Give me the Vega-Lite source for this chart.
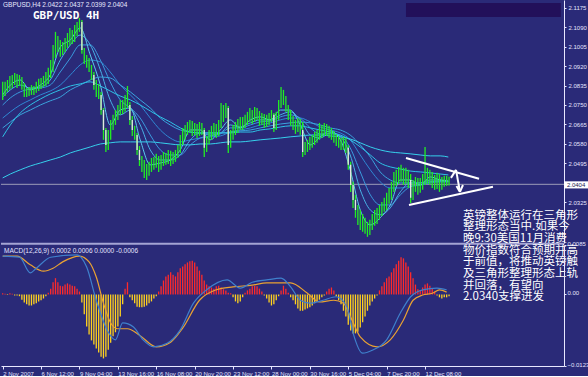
{
"$schema":"https://vega.github.io/schema/vega-lite/v6.json",
"background":"#2a2a78",
"padding":0,
"bounds":"flush",
"spacing":2,
"config":{"view":{"stroke":null},"axis":{"labelFont":"Liberation Sans","labelFontSize":6,"labelColor":"#e4e4ff","domainColor":"#e8e8ff","tickColor":"#e8e8ff","grid":false,"title":null,"labelOverlap":false,"labelFlush":false,"labelBound":false,"labelSeparation":0}},
"datasets":{
"bars":[
{"i":0,"o":2.0794,"h":2.0851,"l":2.0772,"c":2.0807,"m":0.0002},
{"i":1,"o":2.0807,"h":2.0851,"l":2.0789,"c":2.0824,"m":0.0001},
{"i":2,"o":2.0824,"h":2.0859,"l":2.0807,"c":2.0837,"m":-0.0001},
{"i":3,"o":2.0837,"h":2.0877,"l":2.0816,"c":2.0846,"m":0.0002},
{"i":4,"o":2.0846,"h":2.0881,"l":2.0824,"c":2.0859,"m":0.0001},
{"i":5,"o":2.0859,"h":2.0890,"l":2.0837,"c":2.0868,"m":-0.0002},
{"i":6,"o":2.0868,"h":2.0885,"l":2.0824,"c":2.0851,"m":-0.0002},
{"i":7,"o":2.0851,"h":2.0881,"l":2.0833,"c":2.0864,"m":-0.0003},
{"i":8,"o":2.0864,"h":2.0872,"l":2.0816,"c":2.0837,"m":-0.0009},
{"i":9,"o":2.0837,"h":2.0846,"l":2.0785,"c":2.0807,"m":-0.0014},
{"i":10,"o":2.0807,"h":2.0824,"l":2.0785,"c":2.0803,"m":-0.0017},
{"i":11,"o":2.0803,"h":2.0829,"l":2.0789,"c":2.0807,"m":-0.0019},
{"i":12,"o":2.0807,"h":2.0837,"l":2.0794,"c":2.0816,"m":-0.0019},
{"i":13,"o":2.0816,"h":2.0833,"l":2.0794,"c":2.0811,"m":-0.0017},
{"i":14,"o":2.0811,"h":2.0851,"l":2.0803,"c":2.0824,"m":-0.0015},
{"i":15,"o":2.0824,"h":2.0864,"l":2.0811,"c":2.0837,"m":-0.0012},
{"i":16,"o":2.0837,"h":2.0868,"l":2.0820,"c":2.0846,"m":-0.0010},
{"i":17,"o":2.0846,"h":2.0877,"l":2.0829,"c":2.0851,"m":-0.0007},
{"i":18,"o":2.0851,"h":2.0894,"l":2.0833,"c":2.0859,"m":-0.0003},
{"i":19,"o":2.0859,"h":2.0912,"l":2.0842,"c":2.0881,"m":0.0003},
{"i":20,"o":2.0881,"h":2.0946,"l":2.0868,"c":2.0903,"m":0.0010},
{"i":21,"o":2.0903,"h":2.1012,"l":2.0894,"c":2.0968,"m":0.0021},
{"i":22,"o":2.0968,"h":2.1069,"l":2.0955,"c":2.1034,"m":0.0028},
{"i":23,"o":2.1034,"h":2.1051,"l":2.0981,"c":2.1012,"m":0.0021},
{"i":24,"o":2.1012,"h":2.1034,"l":2.0960,"c":2.0990,"m":0.0015},
{"i":25,"o":2.0990,"h":2.1025,"l":2.0968,"c":2.0999,"m":0.0014},
{"i":26,"o":2.0999,"h":2.1042,"l":2.0981,"c":2.1012,"m":0.0017},
{"i":27,"o":2.1012,"h":2.1064,"l":2.0999,"c":2.1034,"m":0.0019},
{"i":28,"o":2.1034,"h":2.1086,"l":2.1012,"c":2.1055,"m":0.0017},
{"i":29,"o":2.1055,"h":2.1077,"l":2.1016,"c":2.1042,"m":0.0015},
{"i":30,"o":2.1042,"h":2.1099,"l":2.1025,"c":2.1069,"m":0.0014},
{"i":31,"o":2.1069,"h":2.1112,"l":2.1051,"c":2.1086,"m":0.0010},
{"i":32,"o":2.1086,"h":2.1130,"l":2.1069,"c":2.1112,"m":0.0005},
{"i":33,"o":2.1112,"h":2.1121,"l":2.0973,"c":2.0990,"m":-0.0014},
{"i":34,"o":2.0990,"h":2.0999,"l":2.0929,"c":2.0955,"m":-0.0034},
{"i":35,"o":2.0955,"h":2.0968,"l":2.0912,"c":2.0938,"m":-0.0055},
{"i":36,"o":2.0938,"h":2.0955,"l":2.0894,"c":2.0912,"m":-0.0069},
{"i":37,"o":2.0912,"h":2.0925,"l":2.0859,"c":2.0881,"m":-0.0079},
{"i":38,"o":2.0881,"h":2.0894,"l":2.0816,"c":2.0837,"m":-0.0086},
{"i":39,"o":2.0837,"h":2.0859,"l":2.0785,"c":2.0824,"m":-0.0093},
{"i":40,"o":2.0824,"h":2.0842,"l":2.0776,"c":2.0794,"m":-0.0100},
{"i":41,"o":2.0794,"h":2.0807,"l":2.0707,"c":2.0728,"m":-0.0107},
{"i":42,"o":2.0728,"h":2.0737,"l":2.0598,"c":2.0641,"m":-0.0110},
{"i":43,"o":2.0641,"h":2.0650,"l":2.0545,"c":2.0576,"m":-0.0107},
{"i":44,"o":2.0576,"h":2.0641,"l":2.0554,"c":2.0619,"m":-0.0095},
{"i":45,"o":2.0619,"h":2.0685,"l":2.0598,"c":2.0663,"m":-0.0083},
{"i":46,"o":2.0663,"h":2.0707,"l":2.0641,"c":2.0685,"m":-0.0072},
{"i":47,"o":2.0685,"h":2.0728,"l":2.0663,"c":2.0707,"m":-0.0065},
{"i":48,"o":2.0707,"h":2.0750,"l":2.0685,"c":2.0728,"m":-0.0055},
{"i":49,"o":2.0728,"h":2.0772,"l":2.0707,"c":2.0750,"m":-0.0038},
{"i":50,"o":2.0750,"h":2.0772,"l":2.0711,"c":2.0737,"m":-0.0017},
{"i":51,"o":2.0737,"h":2.0794,"l":2.0720,"c":2.0772,"m":0.0010},
{"i":52,"o":2.0772,"h":2.0833,"l":2.0737,"c":2.0750,"m":0.0021},
{"i":53,"o":2.0750,"h":2.0763,"l":2.0663,"c":2.0685,"m":-0.0005},
{"i":54,"o":2.0685,"h":2.0702,"l":2.0615,"c":2.0641,"m":-0.0010},
{"i":55,"o":2.0641,"h":2.0659,"l":2.0598,"c":2.0619,"m":-0.0015},
{"i":56,"o":2.0619,"h":2.0628,"l":2.0532,"c":2.0554,"m":-0.0021},
{"i":57,"o":2.0554,"h":2.0571,"l":2.0484,"c":2.0510,"m":-0.0022},
{"i":58,"o":2.0510,"h":2.0528,"l":2.0458,"c":2.0489,"m":-0.0022},
{"i":59,"o":2.0489,"h":2.0510,"l":2.0432,"c":2.0467,"m":-0.0021},
{"i":60,"o":2.0467,"h":2.0493,"l":2.0423,"c":2.0458,"m":-0.0019},
{"i":61,"o":2.0458,"h":2.0502,"l":2.0441,"c":2.0476,"m":-0.0015},
{"i":62,"o":2.0476,"h":2.0519,"l":2.0458,"c":2.0489,"m":-0.0012},
{"i":63,"o":2.0489,"h":2.0523,"l":2.0467,"c":2.0497,"m":-0.0007},
{"i":64,"o":2.0497,"h":2.0537,"l":2.0476,"c":2.0510,"m":-0.0003},
{"i":65,"o":2.0510,"h":2.0528,"l":2.0458,"c":2.0489,"m":0.0005},
{"i":66,"o":2.0489,"h":2.0532,"l":2.0467,"c":2.0502,"m":0.0014},
{"i":67,"o":2.0502,"h":2.0545,"l":2.0484,"c":2.0519,"m":0.0024},
{"i":68,"o":2.0519,"h":2.0541,"l":2.0489,"c":2.0510,"m":0.0031},
{"i":69,"o":2.0510,"h":2.0554,"l":2.0493,"c":2.0532,"m":0.0034},
{"i":70,"o":2.0532,"h":2.0550,"l":2.0484,"c":2.0510,"m":0.0038},
{"i":71,"o":2.0510,"h":2.0545,"l":2.0493,"c":2.0519,"m":0.0034},
{"i":72,"o":2.0519,"h":2.0554,"l":2.0502,"c":2.0532,"m":0.0031},
{"i":73,"o":2.0532,"h":2.0576,"l":2.0519,"c":2.0554,"m":0.0038},
{"i":74,"o":2.0554,"h":2.0619,"l":2.0541,"c":2.0598,"m":0.0045},
{"i":75,"o":2.0598,"h":2.0650,"l":2.0576,"c":2.0619,"m":0.0048},
{"i":76,"o":2.0619,"h":2.0663,"l":2.0598,"c":2.0641,"m":0.0052},
{"i":77,"o":2.0641,"h":2.0676,"l":2.0619,"c":2.0650,"m":0.0055},
{"i":78,"o":2.0650,"h":2.0685,"l":2.0628,"c":2.0663,"m":0.0057},
{"i":79,"o":2.0663,"h":2.0680,"l":2.0615,"c":2.0641,"m":0.0058},
{"i":80,"o":2.0641,"h":2.0672,"l":2.0619,"c":2.0650,"m":0.0055},
{"i":81,"o":2.0650,"h":2.0667,"l":2.0606,"c":2.0632,"m":0.0048},
{"i":82,"o":2.0632,"h":2.0676,"l":2.0615,"c":2.0654,"m":0.0041},
{"i":83,"o":2.0654,"h":2.0672,"l":2.0619,"c":2.0641,"m":0.0034},
{"i":84,"o":2.0641,"h":2.0650,"l":2.0523,"c":2.0563,"m":0.0024},
{"i":85,"o":2.0563,"h":2.0615,"l":2.0545,"c":2.0598,"m":0.0017},
{"i":86,"o":2.0598,"h":2.0641,"l":2.0580,"c":2.0619,"m":0.0014},
{"i":87,"o":2.0619,"h":2.0659,"l":2.0598,"c":2.0641,"m":0.0012},
{"i":88,"o":2.0641,"h":2.0672,"l":2.0615,"c":2.0650,"m":0.0010},
{"i":89,"o":2.0650,"h":2.0667,"l":2.0606,"c":2.0632,"m":0.0014},
{"i":90,"o":2.0632,"h":2.0685,"l":2.0615,"c":2.0663,"m":0.0015},
{"i":91,"o":2.0663,"h":2.0759,"l":2.0650,"c":2.0707,"m":0.0012},
{"i":92,"o":2.0707,"h":2.0750,"l":2.0676,"c":2.0728,"m":0.0009},
{"i":93,"o":2.0728,"h":2.0759,"l":2.0693,"c":2.0737,"m":0.0007},
{"i":94,"o":2.0737,"h":2.0746,"l":2.0541,"c":2.0576,"m":0.0003},
{"i":95,"o":2.0576,"h":2.0641,"l":2.0563,"c":2.0619,"m":0.0002},
{"i":96,"o":2.0619,"h":2.0663,"l":2.0598,"c":2.0641,"m":-0.0005},
{"i":97,"o":2.0641,"h":2.0676,"l":2.0619,"c":2.0650,"m":-0.0012},
{"i":98,"o":2.0650,"h":2.0689,"l":2.0628,"c":2.0663,"m":-0.0015},
{"i":99,"o":2.0663,"h":2.0698,"l":2.0641,"c":2.0676,"m":-0.0012},
{"i":100,"o":2.0676,"h":2.0698,"l":2.0641,"c":2.0663,"m":-0.0005},
{"i":101,"o":2.0663,"h":2.0707,"l":2.0650,"c":2.0685,"m":0.0003},
{"i":102,"o":2.0685,"h":2.0720,"l":2.0663,"c":2.0693,"m":0.0007},
{"i":103,"o":2.0693,"h":2.0737,"l":2.0676,"c":2.0707,"m":0.0010},
{"i":104,"o":2.0707,"h":2.0728,"l":2.0667,"c":2.0693,"m":0.0014},
{"i":105,"o":2.0693,"h":2.0741,"l":2.0676,"c":2.0720,"m":0.0015},
{"i":106,"o":2.0720,"h":2.0737,"l":2.0685,"c":2.0707,"m":0.0014},
{"i":107,"o":2.0707,"h":2.0724,"l":2.0659,"c":2.0685,"m":0.0010},
{"i":108,"o":2.0685,"h":2.0715,"l":2.0663,"c":2.0693,"m":0.0005},
{"i":109,"o":2.0693,"h":2.0711,"l":2.0650,"c":2.0676,"m":-0.0002},
{"i":110,"o":2.0676,"h":2.0707,"l":2.0654,"c":2.0685,"m":-0.0007},
{"i":111,"o":2.0685,"h":2.0715,"l":2.0663,"c":2.0693,"m":-0.0014},
{"i":112,"o":2.0693,"h":2.0728,"l":2.0676,"c":2.0707,"m":-0.0019},
{"i":113,"o":2.0707,"h":2.0715,"l":2.0632,"c":2.0650,"m":-0.0017},
{"i":114,"o":2.0650,"h":2.0720,"l":2.0641,"c":2.0693,"m":-0.0010},
{"i":115,"o":2.0693,"h":2.0772,"l":2.0685,"c":2.0750,"m":-0.0003},
{"i":116,"o":2.0750,"h":2.0829,"l":2.0737,"c":2.0794,"m":0.0007},
{"i":117,"o":2.0794,"h":2.0816,"l":2.0750,"c":2.0772,"m":0.0015},
{"i":118,"o":2.0772,"h":2.0789,"l":2.0720,"c":2.0737,"m":0.0010},
{"i":119,"o":2.0737,"h":2.0750,"l":2.0685,"c":2.0707,"m":0.0003},
{"i":120,"o":2.0707,"h":2.0728,"l":2.0659,"c":2.0685,"m":-0.0005},
{"i":121,"o":2.0685,"h":2.0702,"l":2.0641,"c":2.0663,"m":-0.0010},
{"i":122,"o":2.0663,"h":2.0685,"l":2.0624,"c":2.0650,"m":-0.0017},
{"i":123,"o":2.0650,"h":2.0693,"l":2.0632,"c":2.0676,"m":-0.0024},
{"i":124,"o":2.0676,"h":2.0689,"l":2.0619,"c":2.0641,"m":-0.0028},
{"i":125,"o":2.0641,"h":2.0676,"l":2.0523,"c":2.0545,"m":-0.0028},
{"i":126,"o":2.0545,"h":2.0589,"l":2.0532,"c":2.0563,"m":-0.0026},
{"i":127,"o":2.0563,"h":2.0598,"l":2.0545,"c":2.0576,"m":-0.0024},
{"i":128,"o":2.0576,"h":2.0611,"l":2.0554,"c":2.0585,"m":-0.0022},
{"i":129,"o":2.0585,"h":2.0619,"l":2.0563,"c":2.0598,"m":-0.0019},
{"i":130,"o":2.0598,"h":2.0632,"l":2.0576,"c":2.0606,"m":-0.0015},
{"i":131,"o":2.0606,"h":2.0641,"l":2.0585,"c":2.0619,"m":-0.0012},
{"i":132,"o":2.0619,"h":2.0672,"l":2.0598,"c":2.0641,"m":-0.0009},
{"i":133,"o":2.0641,"h":2.0663,"l":2.0606,"c":2.0632,"m":-0.0005},
{"i":134,"o":2.0632,"h":2.0672,"l":2.0615,"c":2.0650,"m":-0.0002},
{"i":135,"o":2.0650,"h":2.0667,"l":2.0615,"c":2.0641,"m":0.0005},
{"i":136,"o":2.0641,"h":2.0659,"l":2.0606,"c":2.0628,"m":0.0010},
{"i":137,"o":2.0628,"h":2.0650,"l":2.0598,"c":2.0619,"m":0.0012},
{"i":138,"o":2.0619,"h":2.0637,"l":2.0585,"c":2.0606,"m":0.0007},
{"i":139,"o":2.0606,"h":2.0624,"l":2.0571,"c":2.0598,"m":-0.0003},
{"i":140,"o":2.0598,"h":2.0615,"l":2.0563,"c":2.0589,"m":-0.0010},
{"i":141,"o":2.0589,"h":2.0606,"l":2.0554,"c":2.0576,"m":-0.0017},
{"i":142,"o":2.0576,"h":2.0611,"l":2.0554,"c":2.0589,"m":-0.0028},
{"i":143,"o":2.0589,"h":2.0606,"l":2.0541,"c":2.0563,"m":-0.0038},
{"i":144,"o":2.0563,"h":2.0576,"l":2.0467,"c":2.0489,"m":-0.0052},
{"i":145,"o":2.0489,"h":2.0502,"l":2.0371,"c":2.0401,"m":-0.0062},
{"i":146,"o":2.0401,"h":2.0415,"l":2.0301,"c":2.0336,"m":-0.0067},
{"i":147,"o":2.0336,"h":2.0358,"l":2.0258,"c":2.0292,"m":-0.0067},
{"i":148,"o":2.0292,"h":2.0314,"l":2.0227,"c":2.0258,"m":-0.0064},
{"i":149,"o":2.0258,"h":2.0292,"l":2.0205,"c":2.0240,"m":-0.0057},
{"i":150,"o":2.0240,"h":2.0275,"l":2.0197,"c":2.0227,"m":-0.0048},
{"i":151,"o":2.0227,"h":2.0258,"l":2.0188,"c":2.0214,"m":-0.0038},
{"i":152,"o":2.0214,"h":2.0240,"l":2.0175,"c":2.0197,"m":-0.0028},
{"i":153,"o":2.0197,"h":2.0249,"l":2.0183,"c":2.0227,"m":-0.0019},
{"i":154,"o":2.0227,"h":2.0275,"l":2.0205,"c":2.0249,"m":-0.0012},
{"i":155,"o":2.0249,"h":2.0292,"l":2.0223,"c":2.0258,"m":-0.0007},
{"i":156,"o":2.0258,"h":2.0301,"l":2.0231,"c":2.0271,"m":-0.0002},
{"i":157,"o":2.0271,"h":2.0314,"l":2.0249,"c":2.0284,"m":0.0007},
{"i":158,"o":2.0284,"h":2.0327,"l":2.0266,"c":2.0301,"m":0.0014},
{"i":159,"o":2.0301,"h":2.0345,"l":2.0284,"c":2.0314,"m":0.0021},
{"i":160,"o":2.0314,"h":2.0367,"l":2.0292,"c":2.0336,"m":0.0028},
{"i":161,"o":2.0336,"h":2.0388,"l":2.0319,"c":2.0358,"m":0.0031},
{"i":162,"o":2.0358,"h":2.0415,"l":2.0336,"c":2.0388,"m":0.0038},
{"i":163,"o":2.0388,"h":2.0458,"l":2.0371,"c":2.0423,"m":0.0045},
{"i":164,"o":2.0423,"h":2.0467,"l":2.0397,"c":2.0432,"m":0.0052},
{"i":165,"o":2.0432,"h":2.0480,"l":2.0406,"c":2.0445,"m":0.0058},
{"i":166,"o":2.0445,"h":2.0489,"l":2.0415,"c":2.0458,"m":0.0064},
{"i":167,"o":2.0458,"h":2.0476,"l":2.0401,"c":2.0432,"m":0.0062},
{"i":168,"o":2.0432,"h":2.0476,"l":2.0406,"c":2.0445,"m":0.0055},
{"i":169,"o":2.0445,"h":2.0467,"l":2.0388,"c":2.0423,"m":0.0048},
{"i":170,"o":2.0423,"h":2.0449,"l":2.0323,"c":2.0345,"m":0.0038},
{"i":171,"o":2.0345,"h":2.0423,"l":2.0336,"c":2.0401,"m":0.0028},
{"i":172,"o":2.0401,"h":2.0436,"l":2.0371,"c":2.0410,"m":0.0017},
{"i":173,"o":2.0410,"h":2.0432,"l":2.0358,"c":2.0388,"m":0.0009},
{"i":174,"o":2.0388,"h":2.0432,"l":2.0367,"c":2.0401,"m":0.0007},
{"i":175,"o":2.0401,"h":2.0449,"l":2.0380,"c":2.0423,"m":0.0012},
{"i":176,"o":2.0423,"h":2.0567,"l":2.0401,"c":2.0432,"m":0.0017},
{"i":177,"o":2.0432,"h":2.0476,"l":2.0406,"c":2.0445,"m":0.0019},
{"i":178,"o":2.0445,"h":2.0467,"l":2.0401,"c":2.0432,"m":0.0015},
{"i":179,"o":2.0432,"h":2.0458,"l":2.0388,"c":2.0423,"m":0.0010},
{"i":180,"o":2.0423,"h":2.0445,"l":2.0380,"c":2.0410,"m":0.0005},
{"i":181,"o":2.0410,"h":2.0454,"l":2.0384,"c":2.0432,"m":-0.0002},
{"i":182,"o":2.0432,"h":2.0449,"l":2.0371,"c":2.0401,"m":-0.0005},
{"i":183,"o":2.0401,"h":2.0436,"l":2.0380,"c":2.0415,"m":-0.0007},
{"i":184,"o":2.0415,"h":2.0441,"l":2.0393,"c":2.0423,"m":-0.0005},
{"i":185,"o":2.0423,"h":2.0441,"l":2.0397,"c":2.0419,"m":-0.0005},
{"i":186,"o":2.0422,"h":2.0437,"l":2.0399,"c":2.0404,"m":-0.0003}
],
"ma":[
{"i":0,"F1":2.0794,"F2":2.0785,"F3":2.0750,"F4":2.0693,"F5":2.0650,"B":2.0611,"A":2.0432},
{"i":3.2,"F1":2.0837,"F2":2.0816,"F3":2.0781,"F4":2.0720,"F5":2.0676,"B":2.0663,"A":2.0449},
{"i":7.3,"F1":2.0859,"F2":2.0837,"F3":2.0807,"F4":2.0750,"F5":2.0707,"B":2.0715,"A":2.0467},
{"i":11.5,"F1":2.0816,"F2":2.0824,"F3":2.0820,"F4":2.0772,"F5":2.0728,"B":2.0750,"A":2.0484},
{"i":15.7,"F1":2.0837,"F2":2.0829,"F3":2.0824,"F4":2.0794,"F5":2.0750,"B":2.0776,"A":2.0497},
{"i":19.8,"F1":2.0881,"F2":2.0859,"F3":2.0837,"F4":2.0811,"F5":2.0768,"B":2.0798,"A":2.0510},
{"i":24,"F1":2.1003,"F2":2.0946,"F3":2.0894,"F4":2.0837,"F5":2.0785,"B":2.0816,"A":2.0523},
{"i":28.2,"F1":2.1034,"F2":2.1012,"F3":2.0955,"F4":2.0881,"F5":2.0816,"B":2.0833,"A":2.0541},
{"i":32.3,"F1":2.1086,"F2":2.1055,"F3":2.1012,"F4":2.0925,"F5":2.0837,"B":2.0842,"A":2.0554},
{"i":36.5,"F1":2.0968,"F2":2.1012,"F3":2.1012,"F4":2.0946,"F5":2.0859,"B":2.0851,"A":2.0567},
{"i":40.7,"F1":2.0837,"F2":2.0903,"F3":2.0946,"F4":2.0938,"F5":2.0872,"B":2.0833,"A":2.0580},
{"i":44.8,"F1":2.0663,"F2":2.0772,"F3":2.0851,"F4":2.0894,"F5":2.0868,"B":2.0811,"A":2.0585},
{"i":49,"F1":2.0728,"F2":2.0707,"F3":2.0772,"F4":2.0837,"F5":2.0837,"B":2.0789,"A":2.0589},
{"i":53.2,"F1":2.0737,"F2":2.0728,"F3":2.0737,"F4":2.0794,"F5":2.0807,"B":2.0772,"A":2.0589},
{"i":57.3,"F1":2.0598,"F2":2.0663,"F3":2.0693,"F4":2.0750,"F5":2.0772,"B":2.0750,"A":2.0589},
{"i":61.5,"F1":2.0489,"F2":2.0554,"F3":2.0619,"F4":2.0693,"F5":2.0737,"B":2.0724,"A":2.0589},
{"i":65.7,"F1":2.0497,"F2":2.0510,"F3":2.0554,"F4":2.0641,"F5":2.0693,"B":2.0698,"A":2.0585},
{"i":69.8,"F1":2.0510,"F2":2.0510,"F3":2.0532,"F4":2.0606,"F5":2.0663,"B":2.0676,"A":2.0580},
{"i":74,"F1":2.0554,"F2":2.0532,"F3":2.0532,"F4":2.0589,"F5":2.0641,"B":2.0650,"A":2.0576},
{"i":78.2,"F1":2.0641,"F2":2.0598,"F3":2.0576,"F4":2.0598,"F5":2.0632,"B":2.0632,"A":2.0576},
{"i":82.3,"F1":2.0641,"F2":2.0628,"F3":2.0606,"F4":2.0606,"F5":2.0628,"B":2.0628,"A":2.0580},
{"i":86.5,"F1":2.0598,"F2":2.0619,"F3":2.0615,"F4":2.0611,"F5":2.0628,"B":2.0628,"A":2.0580},
{"i":90.7,"F1":2.0641,"F2":2.0628,"F3":2.0624,"F4":2.0615,"F5":2.0628,"B":2.0628,"A":2.0585},
{"i":94.8,"F1":2.0685,"F2":2.0663,"F3":2.0650,"F4":2.0632,"F5":2.0632,"B":2.0628,"A":2.0589},
{"i":99,"F1":2.0650,"F2":2.0654,"F3":2.0650,"F4":2.0641,"F5":2.0637,"B":2.0632,"A":2.0589},
{"i":103.2,"F1":2.0685,"F2":2.0672,"F3":2.0663,"F4":2.0650,"F5":2.0641,"B":2.0632,"A":2.0593},
{"i":107.3,"F1":2.0698,"F2":2.0685,"F3":2.0676,"F4":2.0663,"F5":2.0650,"B":2.0641,"A":2.0598},
{"i":111.5,"F1":2.0685,"F2":2.0685,"F3":2.0680,"F4":2.0672,"F5":2.0659,"B":2.0646,"A":2.0602},
{"i":115.7,"F1":2.0728,"F2":2.0707,"F3":2.0698,"F4":2.0685,"F5":2.0667,"B":2.0654,"A":2.0606},
{"i":119.8,"F1":2.0728,"F2":2.0720,"F3":2.0707,"F4":2.0693,"F5":2.0672,"B":2.0659,"A":2.0611},
{"i":124,"F1":2.0663,"F2":2.0685,"F3":2.0693,"F4":2.0693,"F5":2.0676,"B":2.0659,"A":2.0615},
{"i":128.2,"F1":2.0576,"F2":2.0619,"F3":2.0650,"F4":2.0676,"F5":2.0672,"B":2.0650,"A":2.0619},
{"i":132.3,"F1":2.0611,"F2":2.0606,"F3":2.0624,"F4":2.0654,"F5":2.0663,"B":2.0641,"A":2.0619},
{"i":136.5,"F1":2.0637,"F2":2.0628,"F3":2.0624,"F4":2.0641,"F5":2.0650,"B":2.0632,"A":2.0615},
{"i":140.7,"F1":2.0598,"F2":2.0611,"F3":2.0615,"F4":2.0628,"F5":2.0641,"B":2.0619,"A":2.0611},
{"i":144.8,"F1":2.0467,"F2":2.0532,"F3":2.0563,"F4":2.0598,"F5":2.0619,"B":2.0598,"A":2.0602},
{"i":149,"F1":2.0292,"F2":2.0380,"F3":2.0458,"F4":2.0532,"F5":2.0576,"B":2.0567,"A":2.0585},
{"i":153.2,"F1":2.0227,"F2":2.0292,"F3":2.0358,"F4":2.0467,"F5":2.0523,"B":2.0532,"A":2.0567},
{"i":157.3,"F1":2.0258,"F2":2.0271,"F3":2.0314,"F4":2.0415,"F5":2.0458,"B":2.0497,"A":2.0554},
{"i":161.5,"F1":2.0314,"F2":2.0301,"F3":2.0314,"F4":2.0388,"F5":2.0423,"B":2.0480,"A":2.0545},
{"i":165.7,"F1":2.0423,"F2":2.0371,"F3":2.0358,"F4":2.0388,"F5":2.0410,"B":2.0471,"A":2.0541},
{"i":169.8,"F1":2.0423,"F2":2.0410,"F3":2.0393,"F4":2.0397,"F5":2.0410,"B":2.0462,"A":2.0537},
{"i":174,"F1":2.0401,"F2":2.0410,"F3":2.0401,"F4":2.0401,"F5":2.0410,"B":2.0458,"A":2.0532},
{"i":178.2,"F1":2.0436,"F2":2.0423,"F3":2.0415,"F4":2.0410,"F5":2.0415,"B":2.0454,"A":2.0528},
{"i":182.3,"F1":2.0423,"F2":2.0423,"F3":2.0419,"F4":2.0415,"F5":2.0415,"B":2.0449,"A":2.0528},
{"i":185.7,"F1":2.0415,"F2":2.0419,"F3":2.0419,"F4":2.0415,"F5":2.0415,"B":2.0445,"A":2.0523}
],
"macd":[
{"s":"sig","i":0,"v":0.0066},{"s":"sig","i":6,"v":0.0066},{"s":"sig","i":11.5,"v":0.0051},{"s":"sig","i":17,"v":0.0040},{"s":"sig","i":21,"v":0.0045},{"s":"sig","i":25,"v":0.0056},{"s":"sig","i":32,"v":0.0066},{"s":"sig","i":36,"v":0.0056},{"s":"sig","i":39,"v":0.0030},{"s":"sig","i":42,"v":-0.0015},{"s":"sig","i":45,"v":-0.0049},{"s":"sig","i":48,"v":-0.0059},{"s":"sig","i":52,"v":-0.0059},{"s":"sig","i":57,"v":-0.0070},{"s":"sig","i":64,"v":-0.0090},{"s":"sig","i":70,"v":-0.0082},{"s":"sig","i":75,"v":-0.0058},{"s":"sig","i":82,"v":-0.0010},{"s":"sig","i":89,"v":0.0008},{"s":"sig","i":96,"v":0.0013},{"s":"sig","i":104,"v":0.0016},{"s":"sig","i":110,"v":0.0020},{"s":"sig","i":116,"v":0.0020},{"s":"sig","i":120,"v":0.0020},{"s":"sig","i":127,"v":0.0002},{"s":"sig","i":132,"v":-0.0013},{"s":"sig","i":138,"v":-0.0010},{"s":"sig","i":142,"v":-0.0015},{"s":"sig","i":145,"v":-0.0039},{"s":"sig","i":149,"v":-0.0073},{"s":"sig","i":156,"v":-0.0090},{"s":"sig","i":161.5,"v":-0.0078},{"s":"sig","i":167,"v":-0.0044},{"s":"sig","i":171,"v":-0.0010},{"s":"sig","i":175,"v":-0.0001},{"s":"sig","i":179,"v":0.0002},{"s":"sig","i":182,"v":0.0008},{"s":"sig","i":185,"v":0.0004},
{"s":"main","i":0,"v":0.0066},{"s":"main","i":7,"v":0.0064},{"s":"main","i":11.5,"v":0.0037},{"s":"main","i":14,"v":0.0045},{"s":"main","i":20,"v":0.0064},{"s":"main","i":31,"v":0.0068},{"s":"main","i":35,"v":0.0047},{"s":"main","i":39,"v":-0.0010},{"s":"main","i":43.5,"v":-0.0061},{"s":"main","i":47,"v":-0.0078},{"s":"main","i":50,"v":-0.0049},{"s":"main","i":54.5,"v":-0.0056},{"s":"main","i":58.5,"v":-0.0078},{"s":"main","i":63,"v":-0.0090},{"s":"main","i":68.5,"v":-0.0084},{"s":"main","i":74,"v":-0.0061},{"s":"main","i":79.5,"v":-0.0015},{"s":"main","i":85,"v":0.0008},{"s":"main","i":93.5,"v":0.0025},{"s":"main","i":99,"v":0.0011},{"s":"main","i":104,"v":0.0021},{"s":"main","i":110,"v":0.0025},{"s":"main","i":116,"v":0.0028},{"s":"main","i":120,"v":0.0013},{"s":"main","i":124,"v":-0.0010},{"s":"main","i":128,"v":-0.0015},{"s":"main","i":133.5,"v":-0.0010},{"s":"main","i":139,"v":-0.0004},{"s":"main","i":143.5,"v":-0.0022},{"s":"main","i":146,"v":-0.0066},{"s":"main","i":150,"v":-0.0101},{"s":"main","i":154,"v":-0.0096},{"s":"main","i":160,"v":-0.0078},{"s":"main","i":165.7,"v":-0.0032},{"s":"main","i":170,"v":-0.0004},{"s":"main","i":175,"v":0.0008},{"s":"main","i":181,"v":0.0011},{"s":"main","i":185,"v":0.0008}
],
"segs":[
{"i":168.05,"p":2.0519,"i2":198.5,"p2":2.0428},
{"i":169.3,"p":2.0314,"i2":204.3,"p2":2.0393},
{"i":186.8,"p":2.0432,"i2":188.9,"p2":2.0467},
{"i":188.9,"p":2.0467,"i2":190.55,"p2":2.0371},
{"i":189.1,"p":2.0397,"i2":190.55,"p2":2.0371},
{"i":191.8,"p":2.0401,"i2":190.55,"p2":2.0371}
]
},
"vconcat":[
{
"width":563,"height":243,
"encoding":{
 "x":{"type":"quantitative","title":null,"scale":{"domain":[-0.7,233.9],"nice":false,"zero":false},"axis":null},
 "y":{"type":"quantitative","title":null,"scale":{"domain":[2.0148,2.1208],"nice":false,"zero":false},
   "axis":{"orient":"right","title":null,"values":[2.1175,2.109,2.1005,2.092,2.0835,2.075,2.0665,2.058,2.0495,2.0325],"format":".4f","tickSize":2,"labelPadding":2,"labelBaseline":"middle","labelFlush":false,"labelOverlap":false,"labelSeparation":0}}
},
"layer":[
{"data":{"values":[{}]},"mark":{"type":"rule","color":"#a4a4d4","strokeWidth":2},
 "encoding":{"y":{"datum":2.01444}}},
{"data":{"values":[{}]},"mark":{"type":"rule","color":"#9c9cb8","strokeWidth":1},
 "encoding":{"y":{"datum":2.0404}}},
{"data":{"values":[{}]},"mark":{"type":"rect","color":"#22105a"},
 "encoding":{"x":{"datum":168.05},"x2":{"datum":232.6},"y":{"datum":2.1195},"y2":{"datum":2.1134}}},
{"data":{"name":"ma"},"transform":[{"fold":["F4","F3","F2","F1","F5","B","A"],"as":["s","p"]}],
 "mark":{"type":"line","interpolate":"monotone"},
 "encoding":{"x":{"field":"i"},"y":{"field":"p"},
  "color":{"field":"s","type":"nominal","scale":{"domain":["F1","F2","F3","F4","F5","B","A"],"range":["#5ccaee","#48b2e6","#3a9ade","#2f88d4","#3aa4de","#2ec2e6","#36d0ec"]},"legend":null},
  "strokeWidth":{"field":"s","type":"nominal","scale":{"domain":["F1","F2","F3","F4","F5","B","A"],"range":[1,1,1,1,1.4,2.2,2.6]},"legend":null}}},
{"data":{"name":"bars"},"mark":{"type":"rule","color":"#22ee22","strokeWidth":1.3},
 "encoding":{"x":{"field":"i"},"y":{"field":"h"},"y2":{"field":"l"}}},
{"data":{"name":"bars"},"transform":[{"filter":"datum.o - datum.c > 0.004"}],"mark":{"type":"rule","color":"#e6e6e6","strokeWidth":1.3},
 "encoding":{"x":{"field":"i"},"y":{"field":"o"},"y2":{"field":"c"}}},
{"data":{"name":"segs"},"mark":{"type":"rule","color":"#ffffff","strokeWidth":2},
 "encoding":{"x":{"field":"i"},"x2":{"field":"i2"},"y":{"field":"p"},"y2":{"field":"p2"}}},
{"data":{"values":[{}]},"mark":{"type":"text","text":"GBPUSD,H4  2.0422 2.0437 2.0399 2.0404","font":"Liberation Sans","fontSize":6.5,"color":"#e8e8ff","align":"left","baseline":"middle"},
 "encoding":{"x":{"datum":0.13},"y":{"datum":2.1186}}},
{"data":{"values":[{}]},"mark":{"type":"text","text":"GBP/USD 4H","font":"DejaVu Sans Mono","fontWeight":"bold","fontSize":11,"color":"#ffffff","align":"left","baseline":"middle"},
 "encoding":{"x":{"datum":12.6},"y":{"datum":2.1140}}},
{"data":{"values":[{}]},"mark":{"type":"rect","color":"#ffffff"},
 "encoding":{"x":{"datum":233.9},"x2":{"datum":244.3},"y":{"datum":2.0417},"y2":{"datum":2.0386}}},
{"data":{"values":[{}]},"mark":{"type":"text","text":"2.0404","font":"Liberation Sans","fontSize":6,"color":"#1a1a50","align":"left","baseline":"middle"},
 "encoding":{"x":{"datum":235.1},"y":{"datum":2.0402}}},
{"data":{"values":[{}]},"mark":{"type":"text","text":["英镑整体运行在三角形","整理形态当中.如果今","晚9:30美国11月消费","物价指数符合预期并高","于前值，将推动英镑触","及三角形整理形态上轨","并回落，有望向","2.0340支撑进发"],"font":"Noto Sans CJK SC","fontSize":11.5,"lineHeight":11.7,"color":"#ffffff","align":"left","baseline":"top"},
 "encoding":{"x":{"datum":191.8},"y":{"datum":2.0294}}}
]
},
{
"width":563,"height":121,
"encoding":{
 "x":{"type":"quantitative","title":null,"scale":{"domain":[-0.7,233.9],"nice":false,"zero":false},
   "axis":{"orient":"bottom","title":null,"values":[0,16,32,48,64,80,96,112,128,144,160,176],"labelExpr":"['2 Nov 2007','6 Nov 12:00','9 Nov 04:00','13 Nov 16:00','16 Nov 08:00','20 Nov 20:00','23 Nov 12:00','28 Nov 00:00','30 Nov 16:00','5 Dec 04:00','7 Dec 20:00','12 Dec 08:00'][round(datum.value/16)]","labelAlign":"left","labelBaseline":"top","labelPadding":1,"labelDx":1,"tickSize":3,"labelFlush":false,"labelOverlap":false}},
 "y":{"type":"quantitative","title":null,"scale":{"domain":[-0.0123,0.0085],"nice":false,"zero":false},
   "axis":{"orient":"right","title":null,"values":[0.0085,0,-0.0123],"labelExpr":"datum.value == 0 ? '0.00' : format(datum.value, '.4f')","tickSize":2,"labelPadding":1,"labelBaseline":"alphabetic","labelFlush":false,"labelOverlap":false}}
},
"layer":[
{"data":{"name":"bars"},"transform":[{"filter":"datum.m >= 0"}],"mark":{"type":"rule","color":"#ff2a2a","strokeWidth":1.3},
 "encoding":{"x":{"field":"i"},"y":{"field":"m"},"y2":{"datum":0}}},
{"data":{"name":"bars"},"transform":[{"filter":"datum.m < 0"}],"mark":{"type":"rule","color":"#ffd21e","strokeWidth":1.3},
 "encoding":{"x":{"field":"i"},"y":{"field":"m"},"y2":{"datum":0}}},
{"data":{"name":"macd"},"mark":{"type":"line","interpolate":"monotone","strokeWidth":1.2},
 "encoding":{"x":{"field":"i"},"y":{"field":"v"},
  "color":{"field":"s","type":"nominal","scale":{"domain":["main","sig"],"range":["#3f80cc","#eaa232"]},"legend":null}}},
{"data":{"values":[{}]},"mark":{"type":"text","text":"MACD(12,26,9) 0.0002 0.0006 0.0000 -0.0006","font":"Liberation Sans","fontSize":6.5,"color":"#e4e4ff","align":"left","baseline":"middle"},
 "encoding":{"x":{"datum":0.55},"y":{"datum":0.00746}}}
]
}
],
"resolve":{"scale":{"x":"independent","y":"independent","color":"independent","strokeWidth":"independent"}}
}
